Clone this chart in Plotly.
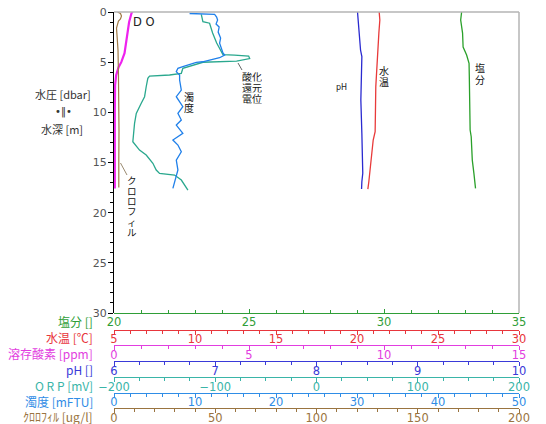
import plotly.graph_objects as go

# ---------------- data ----------------
sal_depth = [0, 0.8, 2.1, 3.5, 4.29, 5.11, 6.45, 8.77, 11.76, 12.43, 14.76, 16.08, 16.92, 17.58]
sal_val = [32.875, 32.84, 32.91, 32.93, 33.06, 33.15, 33.16, 33.18, 33.19, 33.23, 33.27, 33.33, 33.36, 33.39]

temp_depth = [0, 0.8, 2.1, 3.79, 5.45, 7.45, 9.77, 11.93, 12.76, 14.43, 15.75, 16.08, 16.92, 17.65]
temp_val = [21.37, 21.41, 21.35, 21.30, 21.21, 21.16, 21.14, 21.12, 21.0, 20.90, 20.83, 20.79, 20.73, 20.67]

do_depth = [0, 0.1, 1.0, 2.1, 2.8, 4.1, 5.0, 5.5, 6.3, 7.3, 10.0, 14.0, 17.6]
do_val = [0.69, 0.65, 0.56, 0.50, 0.45, 0.39, 0.27, 0.17, 0.08, 0.04, 0.03, 0.03, 0.03]

ph_depth = [0, 0.8, 1.8, 3.79, 4.45, 5.45, 8.77, 12.09, 13.76, 16.08, 16.92, 17.65]
ph_val = [8.405, 8.411, 8.421, 8.435, 8.448, 8.445, 8.438, 8.448, 8.45, 8.457, 8.448, 8.445]

orp_depth = [0.23, 0.97, 1.12, 2.09, 3.09, 4.24, 4.29, 4.39, 4.64, 4.89, 5.01, 5.61, 6.11, 6.28,
             6.38, 6.61, 7.45, 8.44, 9.1, 10.1, 11.1, 12.43, 12.93, 13.76, 14.26, 15.08, 15.75,
             16.08, 16.25, 16.75, 17.75]
orp_val = [-113.8, -112.2, -105.6, -102.6, -98.6, -92.4, -81.0, -67.0, -66.0, -78.9, -112.2,
           -132.0, -133.5, -145.1, -164.9, -166.6, -168.2, -169.8, -173.1, -178.0, -179.7,
           -181.4, -181.4, -174.8, -168.2, -161.6, -158.3, -155.0, -140.2, -133.5, -127.0]

turb_depth = [0.15, 0.23, 0.5, 0.8, 1.2, 1.5, 2.0, 2.6, 3.1, 3.6, 4.09, 4.29, 4.56, 4.96, 5.01,
              5.45, 5.61, 5.95, 6.28, 6.78, 7.78, 8.44, 9.44, 10.1, 10.77, 11.27, 12.09, 12.76,
              13.26, 13.93, 14.76, 15.75, 16.42, 17.58]
turb_val = [9.33, 12.42, 12.67, 12.79, 12.6, 12.98, 12.86, 13.16, 13.04, 13.29, 13.45, 13.66,
            13.04, 10.94, 10.16, 8.5, 7.89, 7.69, 8.1, 8.1, 8.31, 7.69, 8.5, 7.89, 8.31, 7.69,
            8.5, 7.27, 7.89, 8.31, 7.69, 7.89, 7.69, 7.27]

chl_depth = [0, 0.15, 0.4, 0.7, 0.9, 1.2, 1.6, 2.3, 3.8, 6.3, 8.8, 11.8, 14.8, 17.5]
chl_val = [1.73, 3.2, 3.7, 3.2, 2.2, 1.73, 1.24, 1.48, 1.98, 2.2, 2.47, 2.47, 2.37, 2.37]

# axis definitions: label, range, major step, minor step
axis_labels = ["塩分 []", "水温 [℃]", "溶存酸素 [ppm]", "pH []", "O R P [mV]", "濁度 [mFTU]", "ｸﾛﾛﾌｨﾙ [ug/l]"]
axis_ranges = [[20, 35], [5, 30], [0, 15], [6, 10], [-200, 200], [0, 50], [0, 200]]
axis_major = [5, 5, 5, 1, 100, 10, 50]
axis_minor = [1, 1, 1, 0.25, 25, 2, 10]
axis_colors = ["#2f9e37", "#e8363c", "#e23ee0", "#3a3ad8", "#3ab5a8", "#2f8de6", "#9a7440"]
line_colors = ["#2aa02a", "#e83a3a", "#ee22ee", "#2a2ad0", "#2aa88e", "#2080ea", "#a07a45"]

depth_range = [30, 0]
depth_major = 5
depth_minor = 1

# ---------------- geometry (page body has an 8px margin) ----------------
OFF = 8
W, H = 546 - OFF, 424 - OFF
ML, MR, MT, MB = 114 - OFF, 27, 12 - OFF, 0
PW, PH = W - ML - MR, H - MT - MB


def px(x):
    return (x - OFF - ML) / PW


def py(y):
    return (H - MB - (y - OFF)) / PH


axis_line_y = [313, 329.5, 345, 361, 377, 392.5, 408]
label_row_y = [321, 337, 353, 369, 385, 401, 416.5]

series = [
    (sal_val, sal_depth),
    (temp_val, temp_depth),
    (do_val, do_depth),
    (ph_val, ph_depth),
    (orp_val, orp_depth),
    (turb_val, turb_depth),
    (chl_val, chl_depth),
]

fig = go.Figure()
xnames = ["x", "x2", "x3", "x4", "x5", "x6", "x7"]
widths = [1.3, 1.3, 2.2, 1.3, 1.3, 1.3, 1.2]
for i, (vals, dep) in enumerate(series):
    fig.add_trace(go.Scatter(x=vals, y=dep, mode="lines", xaxis=xnames[i], yaxis="y",
                             line=dict(color=line_colors[i], width=widths[i]),
                             showlegend=False, hoverinfo="skip"))

layout = dict(
    width=W, height=H,
    margin=dict(l=ML, r=MR, t=MT, b=MB, pad=0),
    paper_bgcolor="white", plot_bgcolor="white",
    showlegend=False,
    font=dict(family="DejaVu Sans, Noto Sans CJK JP", size=10, color="#333"),
    yaxis=dict(domain=[py(313), 1], range=depth_range, dtick=depth_major, tick0=0,
               ticks="outside", ticklen=5, tickcolor="black", tickwidth=1,
               minor=dict(dtick=depth_minor, ticks="outside", ticklen=3, tickcolor="black"),
               showline=True, linecolor="black", linewidth=1, showgrid=False, zeroline=False,
               tickfont=dict(family="DejaVu Sans", size=11, color="#555"),
               ticklabelstandoff=-1, ticklabeloverflow="allow",
               layer="below traces", automargin=False),
)

for i in range(7):
    key = "xaxis" if i == 0 else "xaxis%d" % (i + 1)
    c = axis_colors[i]
    tick_dir = "inside" if i == 0 else "outside"
    ax = dict(range=axis_ranges[i], domain=[0, 1], anchor="free", position=py(axis_line_y[i]),
              side="bottom", showline=True, linecolor=c, linewidth=1,
              ticks=tick_dir, ticklen=4, tickcolor=c, tickwidth=1,
              dtick=axis_major[i], tick0=axis_ranges[i][0],
              minor=dict(dtick=axis_minor[i], ticks=tick_dir, ticklen=3, tickcolor=c),
              showgrid=False, zeroline=False,
              tickfont=dict(family="DejaVu Sans", size=11.5, color=c),
              ticklabelstandoff=(-2 if i == 0 else -5), ticklabeloverflow="allow",
              automargin=False, layer="above traces")
    if i > 0:
        ax["overlaying"] = "x"
    layout[key] = ax

fig.update_layout(**layout)

# plot frame (top and right)
fig.add_shape(type="line", xref="paper", yref="paper", x0=0, x1=1, y0=1, y1=1,
              line=dict(color="#b4b4b4", width=1.5))
fig.add_shape(type="line", xref="paper", yref="paper", x0=1, x1=1, y0=py(313), y1=1,
              line=dict(color="#b4b4b4", width=1.5))
# leader lines
fig.add_shape(type="line", xref="paper", yref="paper", x0=px(238), x1=px(242), y0=py(63), y1=py(70),
              line=dict(color="#666", width=1))
fig.add_shape(type="line", xref="paper", yref="paper", x0=px(120.5), x1=px(127), y0=py(163), y1=py(175),
              line=dict(color="#9a8a70", width=1))

CJK = "Noto Sans CJK JP, DejaVu Sans"


def ann(text, x, y, size=10, color="#222", xanchor="center", angle=0, family=CJK, height=None):
    kw = {}
    if height is not None:
        kw = dict(height=height, borderpad=0, valign="middle")
    fig.add_annotation(text=text, x=px(x), y=py(y), xref="paper", yref="paper",
                       showarrow=False, xanchor=xanchor, yanchor="middle", textangle=angle,
                       font=dict(size=size, color=color, family=family), **kw)


def vertical(text, x, y0, step, size=10, color="#111"):
    for k, ch in enumerate(text):
        ann(ch, x, y0 + k * step, size=size, color=color, height=step - 0.5)


# left labels of the bottom axes
for i in range(7):
    ann(axis_labels[i], 95, label_row_y[i], size=12, color=axis_colors[i], xanchor="right")

# y axis title
ann("水圧 [dbar]", 63, 94, size=11, color="#333")
ann("•‖•", 63, 112, size=10, color="#333", family="DejaVu Sans")
ann("水深 [m]", 62, 129, size=11, color="#333")

# curve labels
ann("D O", 144, 22, size=11.5, color="#222", family="DejaVu Sans")
vertical("濁度", 189, 96, 11.5)
ann("酸化", 252, 76, size=10, color="#111", height=10.5)
ann("還元", 252, 87, size=10, color="#111", height=10.5)
ann("電位", 252, 98, size=10, color="#111", height=10.5)
ann("pH", 341, 87, size=8, family="DejaVu Sans")
vertical("水温", 384, 70, 11.5)
vertical("塩分", 480, 68, 12)
vertical("クロロフィル", 132, 180, 10.5, size=9.5)

fig.write_html("out.html")
